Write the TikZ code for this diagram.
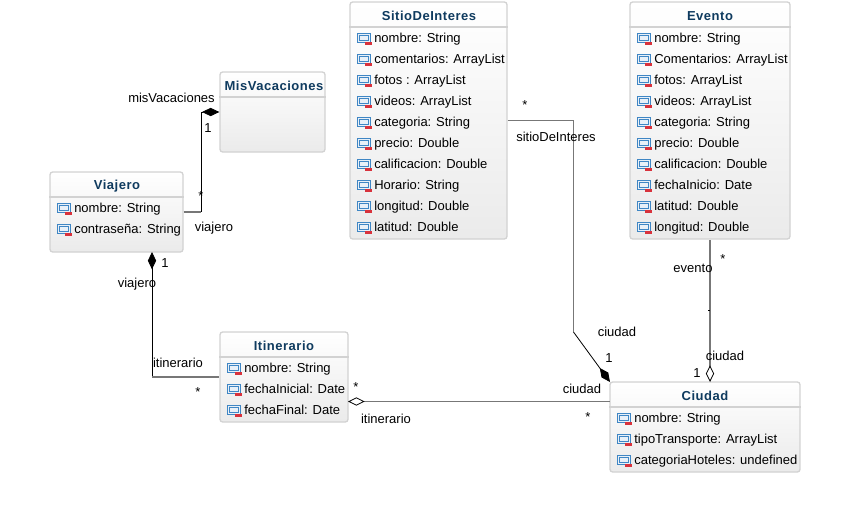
\documentclass[tikz,border=0pt]{standalone}
\usepackage{fontspec}
\setmainfont{Liberation Sans}
\newfontfamily\titlefont[LetterSpace=4,BoldFont={Liberation Sans Bold}]{Liberation Sans}
\usetikzlibrary{positioning}
\usetikzlibrary{arrows.meta}
\definecolor{titleblue}{HTML}{0F3B5F}
\definecolor{boxline}{HTML}{D2D2D2}
\definecolor{iconblue}{HTML}{3F86C4}
\definecolor{iconred}{HTML}{D8323C}
\definecolor{wiregray}{HTML}{777777}
\tikzset{
  classbox/.style={draw=boxline, line width=1pt, rounded corners=2pt, top color=white, bottom color=black!8, inner sep=0pt},
  divider/.style={boxline, line width=1.1pt},
  classtitle/.style={inner sep=0pt, text=titleblue, font=\titlefont\bfseries\fontsize{9.75}{11}\selectfont},
  attr/.style={inner sep=0pt, anchor=base west, font=\fontsize{9.75}{11}\selectfont},
  lbl/.style={inner sep=0pt, yshift=-0.4pt, font=\fontsize{9.75}{11}\selectfont},
  wire/.style={wiregray, line width=1.2pt},
  thinwire/.style={black, line width=0.6pt},
  solidtip/.style={{Diamond[length=13pt,width=6.2pt,color=black,fill=black]}-},
  opentip/.style={{Diamond[length=12.5pt,width=6.2pt,open,color=black,fill=white,line width=0.6pt]}-},
  attricon/.pic={
    \draw[iconblue, line width=0.6pt, fill=iconblue!12] (0,-5) rectangle (13,4);
    \draw[iconblue, line width=0.5pt] (2,-3) rectangle (11,2);
    \fill[iconred] (8,4) rectangle (15,6.5);
  }
}

\begin{document}
\begin{tikzpicture}[x=0.75pt, y=-0.75pt]
\useasboundingbox (0,0) rectangle (850,522);

%%%%%%%%%%%%    class boxes   %%%%%%%%%%%%
\node[classbox, minimum width=105*0.75pt, minimum height=80*0.75pt] (misVacaciones) at (272.5,112) {};
\node[classbox, minimum width=133*0.75pt, minimum height=80*0.75pt] (viajero) at (116.5,212) {};
\node[classbox, minimum width=157*0.75pt, minimum height=237*0.75pt] (sitio) at (428.5,120.5) {};
\node[classbox, minimum width=160*0.75pt, minimum height=237*0.75pt] (evento) at (710,120.5) {};
\node[classbox, minimum width=128*0.75pt, minimum height=90*0.75pt] (itinerario) at (284,377) {};
\node[classbox, minimum width=190*0.75pt, minimum height=90*0.75pt] (ciudad) at (705,427) {};

% titles
\node[classtitle] (misVacacionesTitle) at (274,86) {MisVacaciones};
\node[classtitle] (viajeroTitle) at (117,186) {Viajero};
\node[classtitle] (sitioTitle) at (429,16) {SitioDeInteres};
\node[classtitle] (eventoTitle) at (710,16) {Evento};
\node[classtitle] (itinerarioTitle) at (284,346) {Itinerario};
\node[classtitle] (ciudadTitle) at (705,396) {Ciudad};

\draw[divider] (misVacaciones.west |- 0,97) -- (misVacaciones.east |- 0,97);
\draw[divider] (viajero.west |- 0,197) -- (viajero.east |- 0,197);
\draw[divider] (sitio.west |- 0,27) -- (sitio.east |- 0,27);
\draw[divider] (evento.west |- 0,27) -- (evento.east |- 0,27);
\draw[divider] (itinerario.west |- 0,357) -- (itinerario.east |- 0,357);
\draw[divider] (ciudad.west |- 0,407) -- (ciudad.east |- 0,407);

%%%%%%%%%%%%    attributes   %%%%%%%%%%%%
\foreach \txt [count=\i] in {nombre: String, contraseña: String}
{
  \pic at (57,{187+21*\i}) {attricon};
  \node[attr] (viajeroAttr\i) at (74,{191+21*\i}) {\txt};
}

\foreach \txt [count=\i] in {nombre: String, comentarios: ArrayList, fotos : ArrayList, videos: ArrayList, categoria: String, precio: Double, calificacion: Double, Horario: String, longitud: Double, latitud: Double}
{
  \pic at (357,{17+21*\i}) {attricon};
  \node[attr] (sitioAttr\i) at (374,{21+21*\i}) {\txt};
}

\foreach \txt [count=\i] in {nombre: String, Comentarios: ArrayList, fotos: ArrayList, videos: ArrayList, categoria: String, precio: Double, calificacion: Double, fechaInicio: Date, latitud: Double, longitud: Double}
{
  \pic at (637,{17+21*\i}) {attricon};
  \node[attr] (eventoAttr\i) at (654,{21+21*\i}) {\txt};
}

\foreach \txt [count=\i] in {nombre: String, fechaInicial: Date, fechaFinal: Date}
{
  \pic at (227,{347+21*\i}) {attricon};
  \node[attr] (itinerarioAttr\i) at (244,{351+21*\i}) {\txt};
}

\foreach \txt [count=\i] in {nombre: String, tipoTransporte: ArrayList, categoriaHoteles: undefined}
{
  \pic at (617,{397+21*\i}) {attricon};
  \node[attr] (ciudadAttr\i) at (634,{401+21*\i}) {\txt};
}

%%%%%%%%%%%%    connectors   %%%%%%%%%%%%
\coordinate (viajeroFoot) at (152,252);
\coordinate (itinerarioEast) at (348,401.5);
\coordinate (ciudadWest) at (610,401.5);
\coordinate (ciudadCorner) at (610,382);
\coordinate (ciudadTop) at (710,382);

\coordinate (bendA) at (201,212);
\coordinate (bendA2) at (201,112);
\draw[wire] (viajero.east) -- (bendA);
\draw[thinwire, solidtip] (misVacaciones.west) -- (bendA2) -- (bendA);

\coordinate (bendB) at (152,377);
\draw[thinwire, solidtip] (viajeroFoot) -- (bendB);
\draw[wire] (bendB) -- (itinerario.west);

\draw[wire, opentip] (itinerarioEast) -- (ciudadWest);

\coordinate (bendC) at (573.5,120.5);
\coordinate (bendC2) at (573.5,332);
\draw[wire] (sitio.east) -- (bendC) -- (bendC2);
\draw[thinwire, solidtip] (ciudadCorner) -- (bendC2);

\draw[wire, opentip] (ciudadTop) -- (evento.south);
\coordinate (tickEnd) at (708,310);
\draw[thinwire] (tickEnd) -- (tickEnd -| evento.south);

% labeling
\node[lbl] (lblMisVac) at (171.5,97) {misVacaciones};
\node[lbl] (lblOneA) at (208,127) {1};
\node[lbl] (lblStarA) at (201,195) {*};
\node[lbl] (lblViajeroA) at (214,228) {viajero};
\node[lbl] (lblOneB) at (165,262) {1};
\node[lbl] (lblViajeroB) at (137,284) {viajero};
\node[lbl] (lblItinA) at (178,362) {itinerario};
\node[lbl] (lblStarB) at (198,391) {*};
\node[lbl] (lblStarC) at (356,386) {*};
\node[lbl] (lblItinB) at (386,418) {itinerario};
\node[lbl] (lblCiudadA) at (582,388) {ciudad};
\node[lbl] (lblStarD) at (588,416) {*};
\node[lbl] (lblStarE) at (525,104) {*};
\node[lbl] (lblSitio) at (556,136) {sitioDeInteres};
\node[lbl] (lblCiudadB) at (617,331) {ciudad};
\node[lbl] (lblOneC) at (609,357) {1};
\node[lbl] (lblEvento) at (693,268) {evento};
\node[lbl] (lblStarF) at (723,258) {*};
\node[lbl] (lblCiudadC) at (725,355) {ciudad};
\node[lbl] (lblOneD) at (697,372) {1};

\end{tikzpicture}
\end{document}
